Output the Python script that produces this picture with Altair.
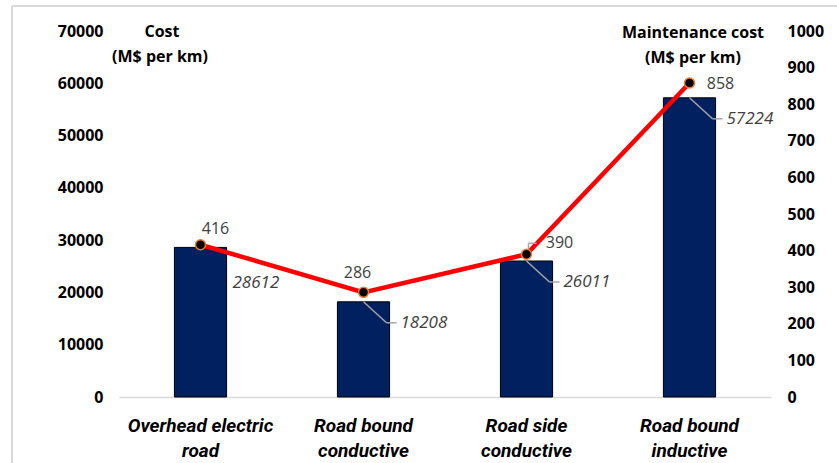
import altair as alt
import pandas as pd

categories = ["Overhead electric|road", "Road bound|conductive", "Road side|conductive", "Road bound|inductive"]
cost = [28612, 18208, 26011, 57224]
maintenance = [416, 286, 390, 858]
left_ticks = [0, 10000, 20000, 30000, 40000, 50000, 60000, 70000]
right_ticks = [0, 100, 200, 300, 400, 500, 600, 700, 800, 900, 1000]

df = pd.DataFrame({"category": categories, "cost": cost, "maint": maintenance})

W, H = 652, 366
PAD_L, PAD_T = 119, 31

xenc = alt.X(
    "category:N", sort=categories, title=None,
    scale=alt.Scale(paddingInner=0.68, paddingOuter=0.34),
    axis=alt.Axis(
        labelExpr="split(datum.label, '|')", labelAngle=0, labelFont="Roboto",
        labelFontSize=19, labelFontWeight="bold", labelFontStyle="italic",
        labelColor="#000000", labelLineHeight=25, labelPadding=19,
        ticks=False, domainColor="#D9D9D9", domainWidth=1.5, labelBaseline="top",
    ),
)

yl = alt.Y("cost:Q", scale=alt.Scale(domain=[0, 70000], nice=False), title=None,
           axis=alt.Axis(values=left_ticks, format="d", grid=False, domain=False, ticks=False,
                         labelFont="Open Sans", labelFontSize=16, labelFontWeight="bold",
                         labelColor="#000000", labelPadding=16))
yl2 = alt.Y2("cost:Q")
yr = alt.Y("maint:Q", scale=alt.Scale(domain=[0, 1000], nice=False), title=None,
           axis=alt.Axis(orient="right", values=right_ticks, format="d", grid=False, domain=False,
                         ticks=False, labelFont="Open Sans", labelFontSize=16, labelFontWeight="bold",
                         labelColor="#000000", labelPadding=16, labelAlign="left"))
yr2 = alt.Y2("maint:Q")

base = alt.Chart(df)

bars = base.mark_bar(color="#002060", stroke="#000000", strokeWidth=1).encode(x=xenc, y=yl)

leader_diag = base.mark_rule(color="#A6A6A6", strokeWidth=1.5, x2Offset=23, y2Offset=21).encode(
    x=xenc, x2="category:N", y=yl, y2=yl2
).transform_filter(alt.datum.category != categories[0])
leader_h = base.mark_rule(color="#A6A6A6", strokeWidth=1.5, xOffset=23, x2Offset=33,
                          yOffset=21, y2Offset=21).encode(
    x=xenc, x2="category:N", y=yl, y2=yl2
).transform_filter(alt.datum.category != categories[0])

bar_lab_first = base.mark_text(align="left", baseline="middle", dx=32, dy=36, font="Open Sans",
                               fontSize=17, fontStyle="italic", color="#404040").encode(
    x=xenc, y=yl, text=alt.Text("cost:Q", format="d")
).transform_filter(alt.datum.category == categories[0])
bar_lab_rest = base.mark_text(align="left", baseline="middle", dx=37, dy=21, font="Open Sans",
                              fontSize=17, fontStyle="italic", color="#404040").encode(
    x=xenc, y=yl, text=alt.Text("cost:Q", format="d")
).transform_filter(alt.datum.category != categories[0])

left_group = alt.layer(bars, leader_diag, leader_h, bar_lab_first, bar_lab_rest)

line = base.mark_line(color="#FF0000", strokeWidth=4.5).encode(x=xenc, y=yr)
points = base.mark_point(filled=True, fill="#000000", stroke="#ED7D31", strokeWidth=1.5,
                         size=100, opacity=1, shape="circle").encode(x=xenc, y=yr)
bracket_v = base.mark_rule(color="#A6A6A6", strokeWidth=1.5, xOffset=2, x2Offset=2,
                           yOffset=-4, y2Offset=-11).encode(
    x=xenc, x2="category:N", y=yr, y2=yr2
).transform_filter(alt.datum.category == categories[2])
bracket_h = base.mark_rule(color="#A6A6A6", strokeWidth=1.5, xOffset=2, x2Offset=10,
                           yOffset=-11, y2Offset=-11).encode(
    x=xenc, x2="category:N", y=yr, y2=yr2
).transform_filter(alt.datum.category == categories[2])

label_offsets = [(15, -16), (-6, -19), (33, -11), (31, 1)]
line_labels = []
for cat, (dx, dy) in zip(categories, label_offsets):
    line_labels.append(
        base.mark_text(align="center", baseline="middle", dx=dx, dy=dy, font="Open Sans",
                       fontSize=16, color="#404040").encode(
            x=xenc, y=yr, text=alt.Text("maint:Q", format="d")
        ).transform_filter(alt.datum.category == cat)
    )

right_group = alt.layer(line, bracket_v, bracket_h, points, *line_labels)

tdf = pd.DataFrame({"t": ["x"]})
tbase = alt.Chart(tdf)
title_style = dict(font="Open Sans", fontSize=16, fontWeight="bold", color="#000000",
                   align="center", baseline="middle")
titles = alt.layer(
    tbase.mark_text(text="Cost", **title_style).encode(x=alt.value(162 - PAD_L), y=alt.value(32 - PAD_T)),
    tbase.mark_text(text="(M$ per km)", **title_style).encode(x=alt.value(160 - PAD_L), y=alt.value(57 - PAD_T)),
    tbase.mark_text(text="Maintenance cost", **title_style).encode(x=alt.value(693 - PAD_L), y=alt.value(33 - PAD_T)),
    tbase.mark_text(text="(M$ per km)", **title_style).encode(x=alt.value(693 - PAD_L), y=alt.value(58 - PAD_T)),
    tbase.mark_rule(color="#D9D9D9", strokeWidth=2).encode(
        x=alt.value(12 - PAD_L), x2=alt.value(837 - PAD_L), y=alt.value(6 - PAD_T), y2=alt.value(6 - PAD_T)),
    tbase.mark_rule(color="#D9D9D9", strokeWidth=2).encode(
        x=alt.value(12 - PAD_L), x2=alt.value(12 - PAD_L), y=alt.value(6 - PAD_T), y2=alt.value(463 - PAD_T)),
)

chart = alt.layer(left_group, right_group, titles).resolve_scale(y="independent").properties(
    width=W, height=H,
    autosize=alt.AutoSizeParams(type="none"),
    padding={"left": PAD_L, "top": PAD_T, "right": 837 - PAD_L - W, "bottom": 463 - PAD_T - H},
    background="#FFFFFF",
).configure_view(stroke=None)

chart.save("out.html", embed_options={"renderer": "svg", "actions": False})
